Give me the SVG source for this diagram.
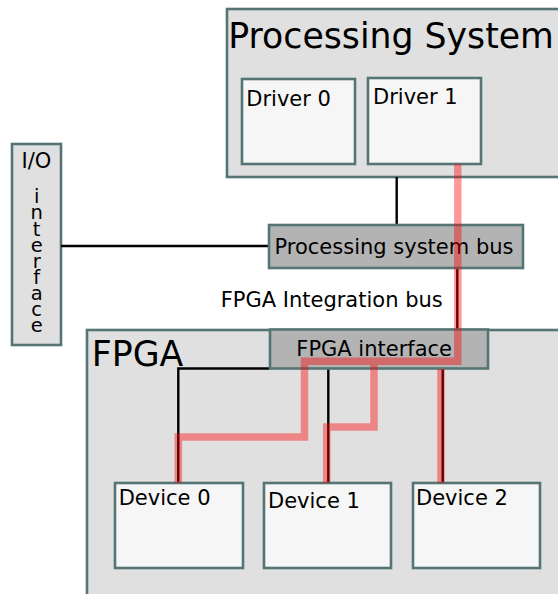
<svg xmlns="http://www.w3.org/2000/svg" width="558" height="594" viewBox="0 0 558 594">
<style>
.box{stroke:#557575;stroke-width:2.6}
.grey{fill:#e0e0e0}
.light{fill:#f6f6f6}
.dark{fill:#b3b3b3}
.wire{fill:none;stroke:#000;stroke-width:2.4}
.hl{fill:none;stroke:#ff0000;stroke-width:7.5}
text{font-family:"DejaVu Sans","Liberation Sans",sans-serif;fill:#000}
.lbl{font-size:21px}
.vert{font-size:19.5px}
.title{font-size:34.7px}
</style>
<rect width="558" height="594" fill="#fff"/>
<g id="processing-system">
<rect class="box grey" x="227" y="9" width="340" height="168"/>
<text class="title" x="228.3" y="48">Processing System</text>
</g>
<g id="driver0">
<rect class="box light" x="242" y="79" width="113" height="85"/>
<text class="lbl" x="246.3" y="106">Driver 0</text>
</g>
<g id="driver1">
<rect class="box light" x="368" y="78" width="113" height="86"/>
<text class="lbl" x="373" y="103.5">Driver 1</text>
</g>
<g id="fpga">
<rect class="box grey" x="87" y="330" width="480" height="280"/>
<text class="title" x="91.8" y="365.7">FPGA</text>
</g>
<g id="io-interface">
<rect class="box grey" x="12" y="144" width="49" height="201"/>
<text class="lbl" text-anchor="middle" x="36.5" y="168">I/O</text>
<text class="vert" text-anchor="middle" x="36.7" y="203.3">i<tspan x="36.7" dy="16.1">n</tspan><tspan x="36.7" dy="16.1">t</tspan><tspan x="36.7" dy="16.1">e</tspan><tspan x="36.7" dy="16.1">r</tspan><tspan x="36.7" dy="16.1">f</tspan><tspan x="36.7" dy="16.1">a</tspan><tspan x="36.7" dy="16.1">c</tspan><tspan x="36.7" dy="16.1">e</tspan></text>
</g>
<g id="connectors">
<path class="wire" d="M396.7 177V225"/>
<path class="wire" d="M61 246H269"/>
<path class="wire" d="M457.3 268V330"/>
<path class="wire" d="M270 368.5H178.3V483"/>
<path class="wire" d="M328.3 368.5V483"/>
<path class="wire" d="M442.7 368.5V483"/>
</g>
<g id="processing-system-bus">
<rect class="box dark" x="269" y="225" width="254" height="43"/>
<text class="lbl" x="274.5" y="253.5">Processing system bus</text>
</g>
<g id="fpga-interface">
<rect class="box dark" x="270" y="329.5" width="218" height="39"/>
<text class="lbl" x="296.3" y="355.5">FPGA interface</text>
</g>
<g id="device0">
<rect class="box light" x="115" y="483" width="128" height="85"/>
<text class="lbl" x="118.7" y="505">Device 0</text>
</g>
<g id="device1">
<rect class="box light" x="264" y="483" width="127" height="85"/>
<text class="lbl" x="268" y="508.3">Device 1</text>
</g>
<g id="device2">
<rect class="box light" x="413" y="483" width="127" height="85"/>
<text class="lbl" x="416" y="505">Device 2</text>
</g>
<text id="fpga-integration-bus" class="lbl" x="220.7" y="306.7">FPGA Integration bus</text>
<g id="highlight-path" opacity="0.4">
<path class="hl" d="M457.8 164V361.3H304.5V437H178.3V483"/>
<path class="hl" d="M374 361.3V427H326.7V483"/>
<path class="hl" d="M441 369V483"/>
</g>
</svg>
